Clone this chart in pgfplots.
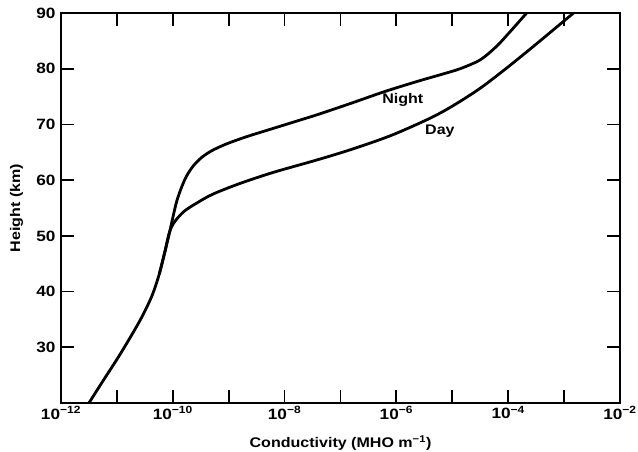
\documentclass[border=0pt]{standalone}
\usepackage{pgfplots}
\usepackage{pgfplotstable}
\pgfplotsset{compat=1.18}
\usepackage{fontspec}
\setmainfont{Liberation Sans}[FakeStretch=1.15]
\pgfplotstableread{
lx h
-11.50 20.0
-11.24 24.1
-10.97 28.3
-10.73 32.3
-10.55 35.5
-10.37 39.3
-10.24 43.2
-10.14 47.2
-10.06 50.5
-10.01 52.8
-9.93 56.2
-9.84 58.8
-9.75 60.8
-9.63 62.6
-9.48 64.1
-9.30 65.3
-9.04 66.5
-8.68 67.8
-8.20 69.3
-7.75 70.7
-7.40 71.8
-6.81 73.8
-6.21 75.9
-5.60 77.8
-5.22 78.9
-4.86 80.0
-4.50 81.6
-4.21 84.0
-3.97 86.6
-3.67 90.0
-3.55 91.5
}\night
\pgfplotstableread{
lx h
-10.24 43.2
-10.14 47.2
-10.07 50.3
-9.99 52.2
-9.81 54.3
-9.57 55.9
-9.28 57.5
-8.80 59.4
-8.20 61.4
-7.43 63.6
-6.81 65.5
-6.10 68.0
-5.40 71.1
-4.98 73.4
-4.50 76.5
-4.03 80.1
-3.55 84.0
-3.13 87.5
-2.83 90.0
-2.70 91.0
}\day
\begin{document}
\begin{tikzpicture}
\useasboundingbox (-61bp,-49bp) rectangle (577bp,403bp);
\begin{axis}[
  at={(0,0)}, anchor=south west,
  scale only axis, width=559bp, height=390bp,
  xmode=log, log basis x=10,
  xmin=1e-12, xmax=1e-2, ymin=20, ymax=90,
  xtick={1e-12,1e-11,1e-10,1e-9,1e-8,1e-7,1e-6,1e-5,1e-4,1e-3,1e-2},
  xticklabels={10\textsuperscript{−12},,10\textsuperscript{−10},,10\textsuperscript{−8},,10\textsuperscript{−6},,10\textsuperscript{−4},,10\textsuperscript{−2}},
  ytick={30,40,50,60,70,80,90},
  yticklabels={30,40,50,60,70,80,90},
  minor tick num=0,
  tick align=inside, major tick length=13bp,
  tick style={line width=1.8bp, black},
  axis line style={line width=2.2bp},
  every tick label/.append style={font=\bfseries\fontsize{15}{17}\selectfont},
  xticklabel style={yshift=0bp},
  yticklabel style={xshift=-2bp},
  xlabel={Conductivity (MHO m\textsuperscript{−1})},
  ylabel={Height (km)},
  label style={font=\bfseries\fontsize{14}{16}\selectfont},
  xlabel style={at={(axis description cs:0.5,-0.1026)}, anchor=center},
  ylabel style={at={(axis description cs:-0.0796,0.5)}, anchor=center, rotate=0},
  clip=true,
]
\addplot[smooth, tension=0.5, line width=2.8bp, black] table[x expr={10^(\thisrow{lx})}, y=h] {\night};
\addplot[smooth, tension=0.5, line width=2.8bp, black] table[x expr={10^(\thisrow{lx})}, y=h] {\day};
\node[font=\bfseries\fontsize{14}{16}\selectfont] at (axis cs:1.3e-6,74.4) {Night};
\node[font=\bfseries\fontsize{14}{16}\selectfont] at (axis cs:6e-6,68.8) {Day};
\end{axis}
\end{tikzpicture}
\end{document}
